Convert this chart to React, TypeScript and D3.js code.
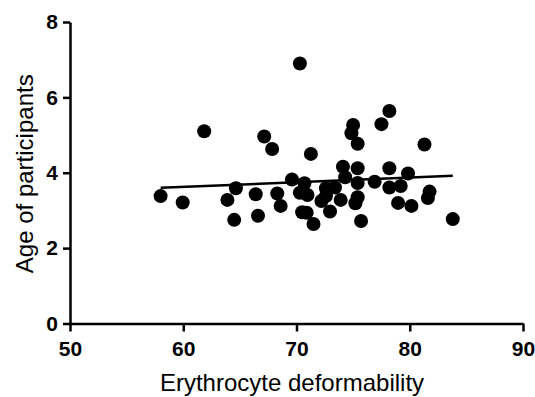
import { useEffect, useRef } from 'react';
import * as d3 from 'd3';

const deformability = [
  58.0, 59.95, 61.85, 63.9, 64.65, 64.5, 66.4, 66.6, 67.15, 67.85,
  68.3, 68.6, 69.6, 70.3, 70.7, 70.3, 70.97, 70.5, 70.9, 71.5,
  71.27, 72.2, 72.6, 72.6, 73.4, 72.96, 73.9, 74.1, 74.3, 74.85,
  75.0, 75.4, 75.4, 75.4, 75.4, 75.2, 75.7, 76.9, 77.5, 78.2,
  78.2, 78.2, 79.2, 78.97, 79.85, 80.15, 81.3, 81.75, 81.6, 83.8,
];
const age = [
  3.38, 3.21, 5.1, 3.28, 3.59, 2.75, 3.43, 2.86, 4.96, 4.63,
  3.45, 3.12, 3.82, 6.9, 3.72, 3.47, 3.41, 2.95, 2.94, 2.64,
  4.5, 3.25, 3.38, 3.59, 3.61, 2.97, 3.28, 4.16, 3.88, 5.05,
  5.27, 4.77, 4.12, 3.73, 3.35, 3.19, 2.72, 3.76, 5.29, 5.64,
  4.12, 3.61, 3.65, 3.2, 3.98, 3.12, 4.75, 3.5, 3.33, 2.77,
];

const xTicks = [50, 60, 70, 80, 90];
const yTicks = [0, 2, 4, 6, 8];

// linear fit
const fitSlope = 0.0124;
const fitIntercept = 2.88;

export default function App() {
  const svgRef = useRef<SVGSVGElement>(null);

  useEffect(() => {
    if (!svgRef.current) return;
    const width = 535;
    const height = 397;
    const margin = { top: 22, right: 12, bottom: 73.5, left: 70 };

    const svg = d3.select(svgRef.current);
    svg.selectAll('*').remove();
    svg.attr('width', width).attr('height', height);

    const x = d3.scaleLinear().domain([50, 90]).range([margin.left, width - margin.right]);
    const y = d3.scaleLinear().domain([0, 8]).range([height - margin.bottom, margin.top]);

    const font = 'Liberation Sans, Arial, sans-serif';

    // Points
    svg
      .append('g')
      .selectAll('circle')
      .data(deformability)
      .join('circle')
      .attr('cx', (d) => x(d))
      .attr('cy', (_d, i) => y(age[i]))
      .attr('r', 7)
      .attr('fill', '#000');

    // Regression line
    const xMin = d3.min(deformability) ?? 50;
    const xMax = d3.max(deformability) ?? 90;
    svg
      .append('line')
      .attr('x1', x(xMin))
      .attr('x2', x(xMax))
      .attr('y1', y(fitIntercept + fitSlope * xMin))
      .attr('y2', y(fitIntercept + fitSlope * xMax))
      .attr('stroke', '#000')
      .attr('stroke-width', 2.5);

    // X axis
    const xAxis = svg
      .append('g')
      .attr('transform', `translate(0,${y(0)})`)
      .call(d3.axisBottom(x).tickValues(xTicks).tickSize(8).tickPadding(10).tickSizeOuter(0));
    xAxis.select('.domain').attr('stroke-width', 2.5);
    xAxis.selectAll('.tick line').attr('stroke-width', 2.5);
    xAxis
      .selectAll('text')
      .attr('font-size', 21)
      .attr('font-weight', 'bold')
      .attr('font-family', font)
      .attr('fill', '#000');

    // Y axis
    const yAxis = svg
      .append('g')
      .attr('transform', `translate(${x(50)},0)`)
      .call(d3.axisLeft(y).tickValues(yTicks).tickSize(7).tickPadding(5).tickSizeOuter(0));
    yAxis.select('.domain').attr('stroke-width', 2.5);
    yAxis.selectAll('.tick line').attr('stroke-width', 2.5);
    yAxis
      .selectAll('text')
      .attr('font-size', 21)
      .attr('font-weight', 'bold')
      .attr('font-family', font)
      .attr('fill', '#000');

    // Titles
    svg
      .append('text')
      .attr('x', 292)
      .attr('y', 391)
      .attr('text-anchor', 'middle')
      .attr('font-size', 24)
      .attr('font-family', font)
      .attr('fill', '#000')
      .text('Erythrocyte deformability');

    svg
      .append('text')
      .attr('transform', `translate(33,${(y(0) + y(8)) / 2 + 1}) rotate(-90)`)
      .attr('text-anchor', 'middle')
      .attr('font-size', 24)
      .attr('font-family', font)
      .attr('fill', '#000')
      .text('Age of participants');
  }, []);

  return (
    <svg
      ref={svgRef}
      style={{ position: 'absolute', left: 0, top: 0, display: 'block', background: '#fff' }}
    />
  );
}
